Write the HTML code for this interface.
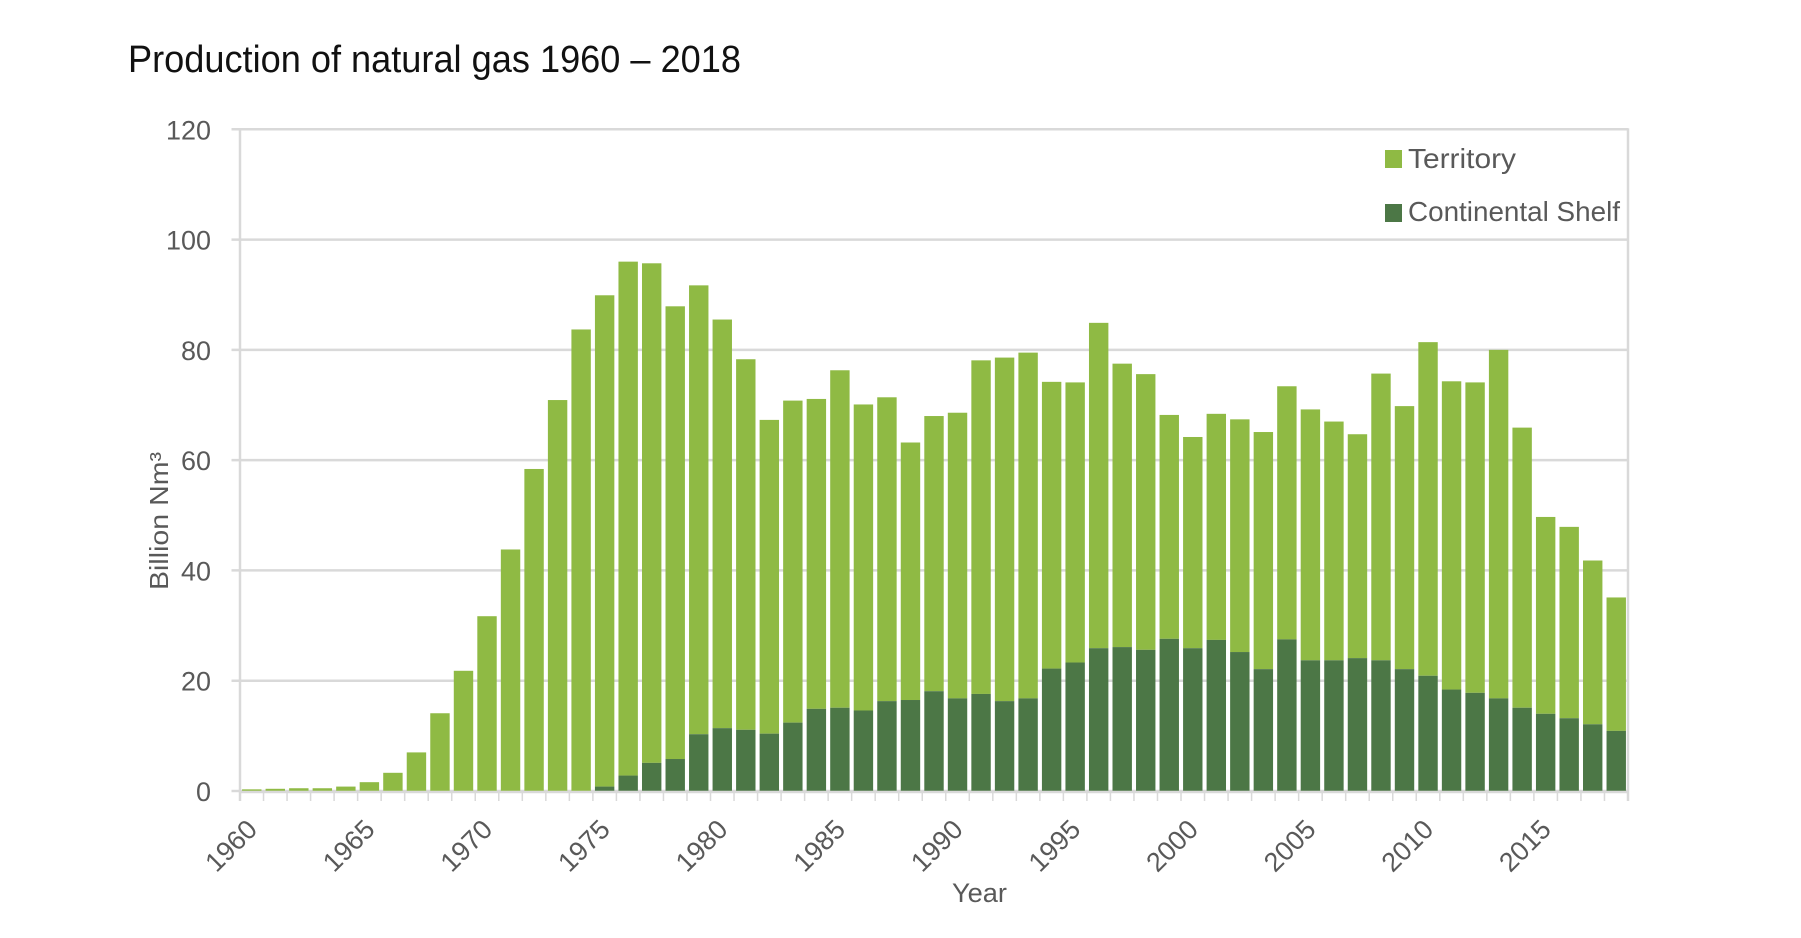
<!DOCTYPE html>
<html lang="en">
<head>
<meta charset="utf-8">
<title>Production of natural gas 1960 – 2018</title>
<style>
  html,body{margin:0;padding:0;background:#fff;width:1801px;height:938px;overflow:hidden}
  svg{display:block}
  text{font-family:"Liberation Sans",sans-serif;fill:#595959}
</style>
</head>
<body>
<svg id="chart" width="1801" height="938" viewBox="0 0 1801 938" xmlns="http://www.w3.org/2000/svg">
  <text x="128" y="72" font-size="38" style="fill:#111" textLength="613" lengthAdjust="spacingAndGlyphs">Production of natural gas 1960 – 2018</text>
  <g id="grid"></g>
  <g id="bars"></g>
  <g id="axes"></g>
  <text transform="translate(168,590) rotate(-90)" font-size="26" textLength="138" lengthAdjust="spacingAndGlyphs">Billion Nm³</text>
  <text x="952" y="902" font-size="27" textLength="55" lengthAdjust="spacingAndGlyphs">Year</text>
  <g>
    <rect x="1385" y="150" width="17" height="18" fill="#8fba44"/>
    <text x="1408" y="168" font-size="28" textLength="108" lengthAdjust="spacingAndGlyphs">Territory</text>
    <rect x="1385" y="204" width="17" height="18" fill="#4c7746"/>
    <text x="1408" y="221" font-size="28" textLength="212" lengthAdjust="spacingAndGlyphs">Continental Shelf</text>
  </g>
</svg>
<script>
const categories = [1960,1961,1962,1963,1964,1965,1966,1967,1968,1969,1970,1971,1972,1973,1974,1975,1976,1977,1978,1979,1980,1981,1982,1983,1984,1985,1986,1987,1988,1989,1990,1991,1992,1993,1994,1995,1996,1997,1998,1999,2000,2001,2002,2003,2004,2005,2006,2007,2008,2009,2010,2011,2012,2013,2014,2015,2016,2017,2018];
const continentalShelf = [0,0,0,0,0,0,0,0,0,0,0,0,0,0,0,0.8,2.8,5.1,5.8,10.3,11.4,11.1,10.4,12.4,14.9,15.1,14.6,16.3,16.5,18.1,16.8,17.6,16.3,16.8,22.2,23.3,25.9,26.1,25.6,27.6,25.9,27.4,25.2,22.1,27.5,23.7,23.7,24.1,23.7,22.1,20.9,18.4,17.8,16.8,15.1,14.0,13.2,12.1,10.9];
const territory = [0.3,0.4,0.5,0.5,0.8,1.6,3.3,7.0,14.1,21.8,31.7,43.8,58.4,70.9,83.7,89.1,93.2,90.6,82.1,81.4,74.1,67.2,56.9,58.4,56.2,61.2,55.5,55.1,46.7,49.9,51.8,60.5,62.3,62.7,52.0,50.8,59.0,51.4,50.0,40.6,38.3,41.0,42.2,43.0,45.9,45.5,43.3,40.6,52.0,47.7,60.5,55.9,56.3,63.2,50.8,35.7,34.7,29.7,24.2];
const yTickLabels = [0,20,40,60,80,100,120];
const xTickLabels = [1960,1965,1970,1975,1980,1985,1990,1995,2000,2005,2010,2015];

const NS = 'http://www.w3.org/2000/svg';
const plotLeft = 240, plotRight = 1628, plotBottom = 791, plotTop = 129.3;
const yMax = 120;
const step = (plotRight - plotLeft) / categories.length;
const barWidth = step * 0.825;
function yScale(v){ return plotBottom - (v / yMax) * (plotBottom - plotTop); }
function xBand(i){ return plotLeft + i * step; }
function xCenter(i){ return xBand(i) + step / 2; }
function make(tag, parent, attrs){
  const n = document.createElementNS(NS, tag);
  for (const k in attrs) n.setAttribute(k, attrs[k]);
  parent.appendChild(n);
  return n;
}
const gridG = document.getElementById('grid');
const barsG = document.getElementById('bars');
const axesG = document.getElementById('axes');
const AXIS = '#d9d9d9';

yTickLabels.forEach(function(t){
  const y = yScale(t);
  const line = make('line', gridG, {x1: plotLeft - 8.5, x2: plotRight, y1: y, y2: y, stroke: AXIS, 'stroke-width': 2.5});
  
  
  const label = make('text', axesG, {x: 211, y: y + 10, 'text-anchor': 'end', 'font-size': 27, textLength: String(t).length * 15, lengthAdjust: 'spacingAndGlyphs'});
  
  
  label.textContent = t;
});

const leftAxis = make('line', gridG, {x1: plotLeft, x2: plotLeft, y1: plotTop - 1, y2: plotBottom + 10, stroke: AXIS, 'stroke-width': 2.5});


const rightBorder = make('line', gridG, {x1: plotRight, x2: plotRight, y1: plotTop - 1, y2: plotBottom + 10, stroke: AXIS, 'stroke-width': 2.5});



categories.forEach(function(year, i){
  const cx = xCenter(i);
  const sh = continentalShelf[i], te = territory[i];
  if (te > 0) {
    const r = make('rect', barsG, {x: cx - barWidth / 2, y: yScale(sh + te), width: barWidth, height: yScale(sh) - yScale(sh + te), fill: '#8fba44'});
    
    
  }
  if (sh > 0) {
    const r2 = make('rect', barsG, {x: cx - barWidth / 2, y: yScale(sh), width: barWidth, height: yScale(0) - yScale(sh), fill: '#4c7746'});
    
    
  }
  if (i > 0) {
    const tick = make('line', axesG, {x1: xBand(i), x2: xBand(i), y1: plotBottom, y2: plotBottom + 10, stroke: AXIS, 'stroke-width': 1.5});
    
    
  }
});

const baseLine = make('line', axesG, {x1: plotLeft, x2: plotRight, y1: plotBottom + 1, y2: plotBottom + 1, stroke: AXIS, 'stroke-width': 2.5});



xTickLabels.forEach(function(t){
  const i = categories.indexOf(t);
  const lx = xCenter(i) + 7, ly = 831;
  const label = make('text', axesG, {transform: 'translate(' + lx + ',' + ly + ') rotate(-45)', 'text-anchor': 'end', 'font-size': 27, textLength: 60, lengthAdjust: 'spacingAndGlyphs'});
  
  
  label.textContent = t;
});
</script>
</body>
</html>
